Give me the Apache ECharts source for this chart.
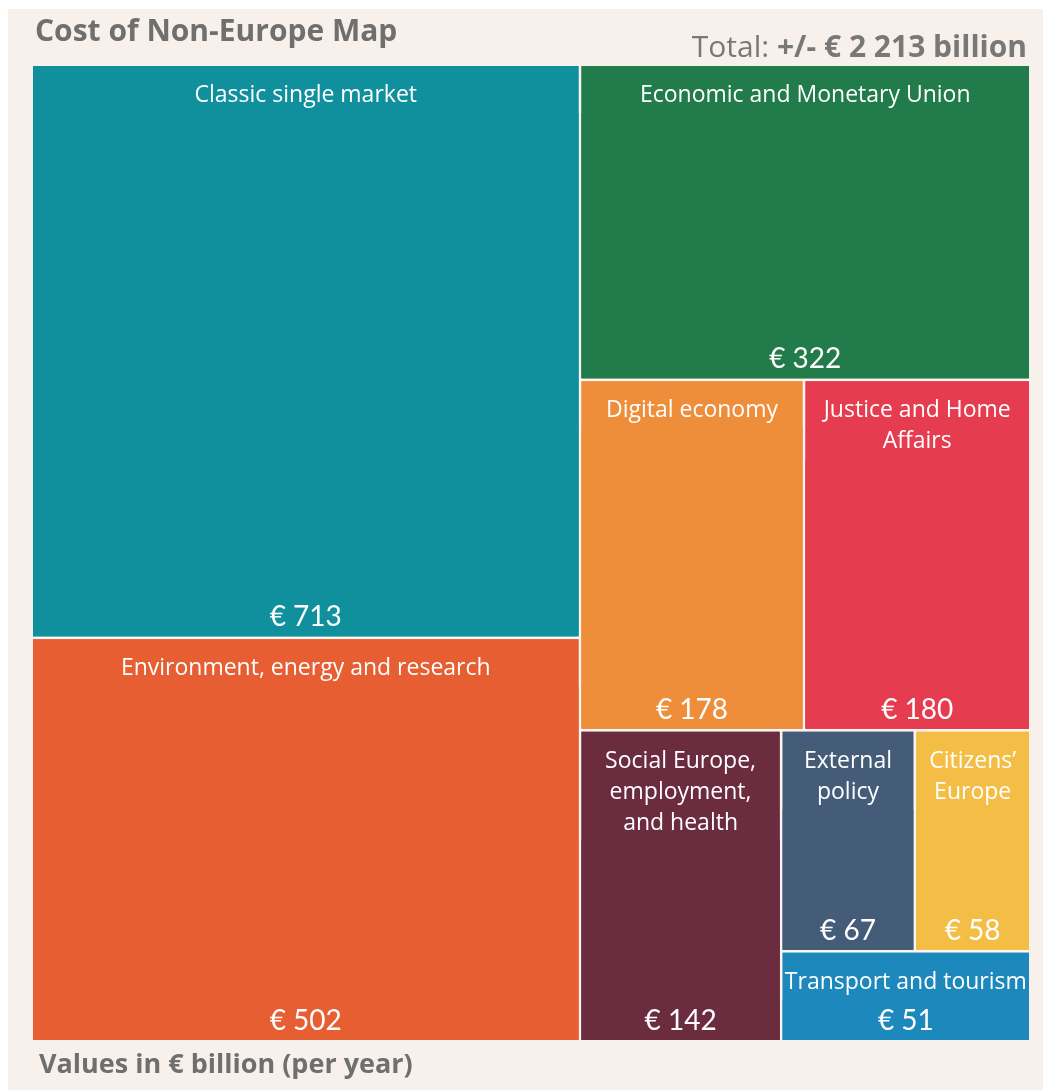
<!DOCTYPE html>
<html><head><meta charset="utf-8">
<script src="https://cdn.jsdelivr.net/npm/echarts@6/dist/echarts.min.js"></script>
<style>
html,body{margin:0;padding:0;background:#fff;}
#bg{position:absolute;left:8px;top:9px;right:0;bottom:0;background:#f8f1eb;}
#chart{position:absolute;left:0;top:0;width:1043px;height:1090px;}
</style></head><body>
<div id="bg"></div><div id="chart"></div>
<script>
// ---- data ----
const categories = [
  'Classic single market',
  'Environment, energy and research',
  'Economic and Monetary Union',
  'Digital economy',
  'Justice and Home\nAffairs',
  'Social Europe,\nemployment,\nand health',
  'External\npolicy',
  'Citizens’\nEurope',
  'Transport and tourism'
];
const values = [713, 502, 322, 178, 180, 142, 67, 58, 51];
const colors = ['#10909c', '#e65e31', '#217b4a', '#ef8e3a', '#e63c50', '#6b2c3f', '#445c78', '#f4be46', '#1c88bc'];
// grouping of category indices (nesting of the map)
const grouping = [[0, 1], [2, [3, 4], [5, [[6, 7], 8]]]];
const titleText = 'Cost of Non-Europe Map';
const footText = 'Values in € billion (per year)';

// ---- build ----
const GAP = '#fbf6f2';
const total = values.reduce((a, b) => a + b, 0);
const totalStr = String(total).replace(/\B(?=(\d{3})+(?!\d))/g, ' ');

function build(node) {
  if (typeof node === 'number') {
    const i = node;
    const lines = categories[i].split('\n').length;
    return {
      name: categories[i],
      value: values[i],
      itemStyle: { color: colors[i], borderColor: colors[i], borderWidth: 0, gapWidth: 0 },
      upperLabel: {
        show: true,
        height: 16 + lines * 31,
        position: 'insideTop',
        verticalAlign: 'top',
        distance: 0,
        padding: [14, 1, 2, 1],
        color: '#fff',
        backgroundColor: colors[i],
        fontFamily: 'Open Sans',
        fontSize: 23,
        lineHeight: 31,
        overflow: 'none',
        formatter: '{b}'
      },
      children: [{
        name: categories[i],
        value: values[i],
        itemStyle: { color: colors[i], borderColor: colors[i], borderWidth: 0 }
      }]
    };
  }
  return {
    name: '',
    children: node.map(build),
    itemStyle: { gapWidth: 3, borderColor: GAP, borderWidth: 0 }
  };
}
const treeData = grouping.map(build);

const chart = echarts.init(document.getElementById('chart'), null, { renderer: 'canvas' });
chart.setOption({
  backgroundColor: 'transparent',
  animation: false,
  title: [
    { text: titleText, left: 35, top: 17, padding: 0,
      textStyle: { fontFamily: 'Open Sans', fontWeight: 'bold', fontSize: 30, color: '#6f6f6f' } },
    { text: '{a|Total: }{b|+/- € ' + totalStr + ' billion}', right: 16, top: 33, padding: 0,
      textStyle: { rich: {
        a: { fontFamily: 'Open Sans', fontWeight: 'normal', fontSize: 30, color: '#787878' },
        b: { fontFamily: 'Open Sans', fontWeight: 'bold', fontSize: 30, color: '#787878' }
      } } },
    { text: footText, left: 39, top: 1052, padding: 0,
      textStyle: { fontFamily: 'Open Sans', fontWeight: 'bold', fontSize: 27, color: '#6f6f6f' } }
  ],
  series: [{
    type: 'treemap',
    left: 33, top: 66, width: 996, height: 974,
    squareRatio: 1,
    sort: false,
    roam: false,
    nodeClick: false,
    breadcrumb: { show: false },
    emphasis: { disabled: true },
    itemStyle: { borderWidth: 0, gapWidth: 3, borderColor: GAP },
    upperLabel: { show: false },
    label: {
      show: true,
      position: 'insideBottom',
      distance: 5,
      padding: 0,
      color: '#fff',
      fontFamily: 'Lato',
      fontSize: 28,
      lineHeight: 28,
      formatter: '€ {c}'
    },
    data: treeData
  }]
});
</script>
</body></html>
